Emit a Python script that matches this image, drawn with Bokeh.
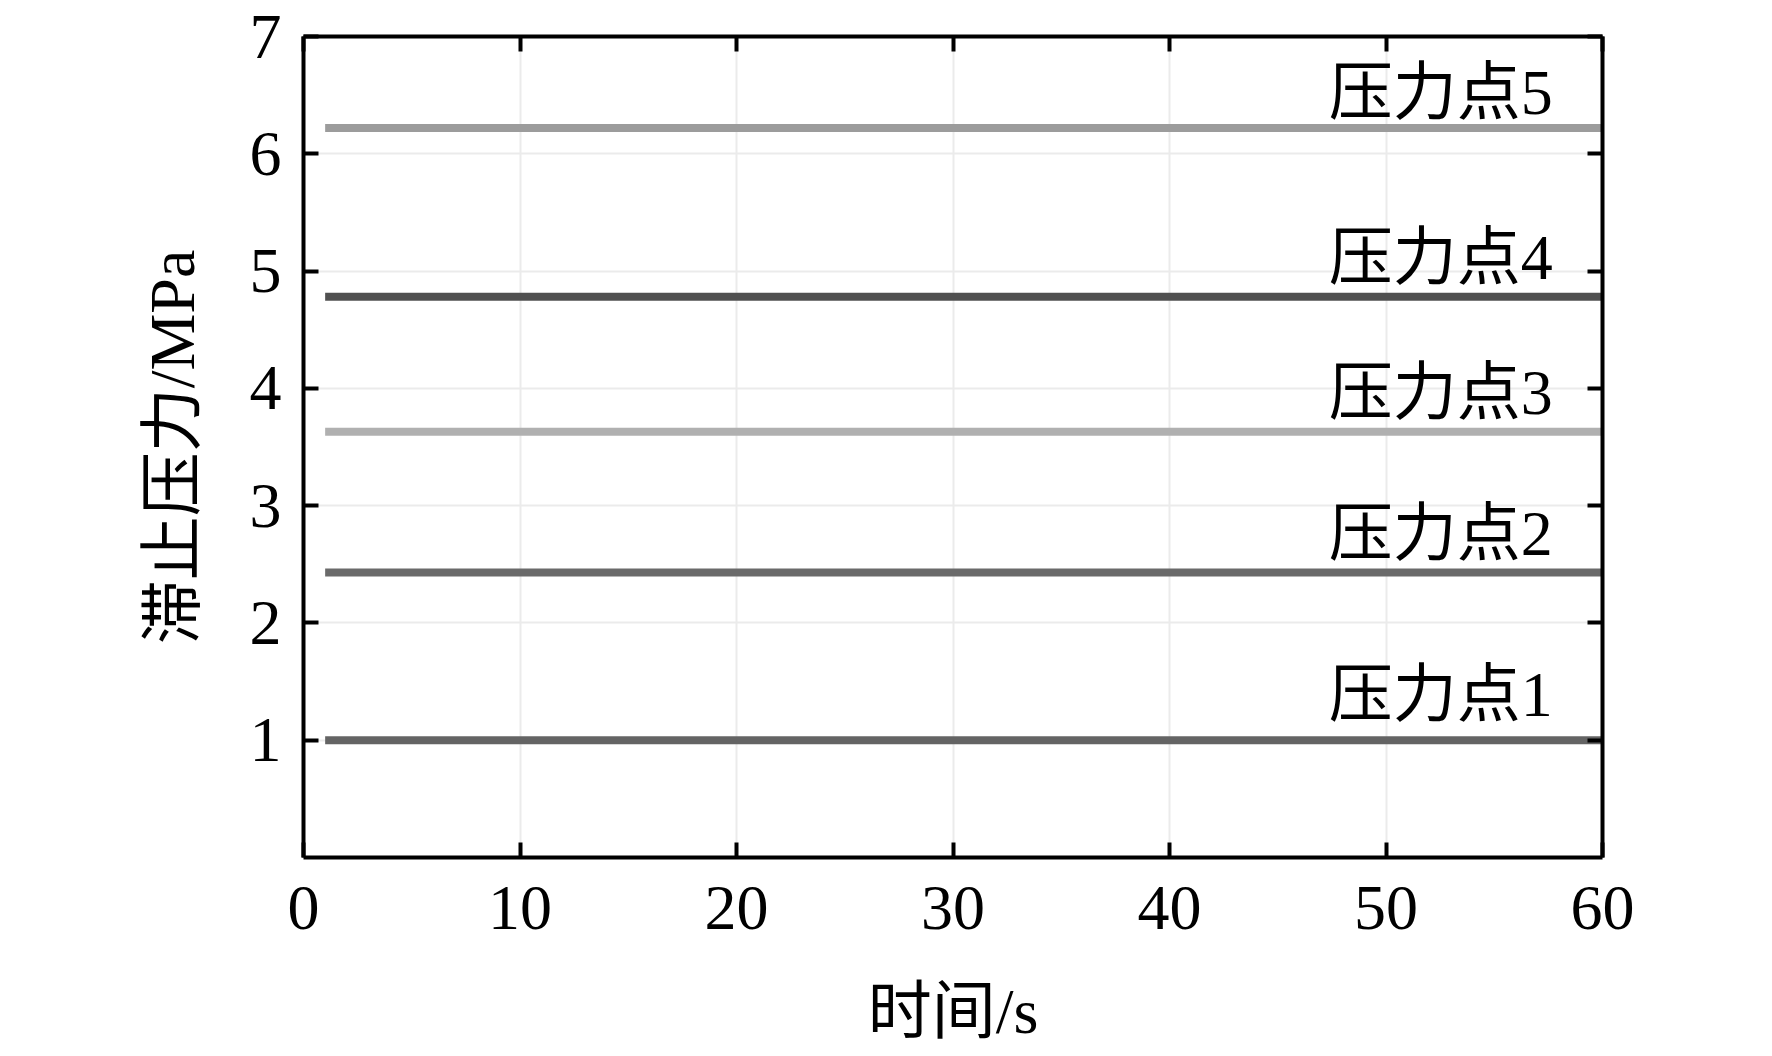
from bokeh.plotting import figure
from bokeh.models import LinearAxis, FixedTicker
from bokeh.core.properties import value
from bokeh.embed import file_html
from bokeh.resources import INLINE

# data
times = [1, 60]
levels = [1.00, 2.43, 3.63, 4.78, 6.22]
names = ["压力点1", "压力点2", "压力点3", "压力点4", "压力点5"]
colors = ["#646464", "#6a6a6a", "#b0b0b0", "#505050", "#9c9c9c"]
label_x = [47.35] * 5
label_y = [1.23, 2.60, 3.80, 4.95, 6.36]
x_ticks = [0, 10, 20, 30, 40, 50, 60]
y_ticks = [1, 2, 3, 4, 5, 6, 7]

FONT = "'Liberation Serif', 'Noto Sans CJK SC', serif"
FS = "64px"

p = figure(frame_width=1299, frame_height=821,
           x_range=(0, 60), y_range=(0, 7),
           min_border_left=303, min_border_right=160,
           min_border_top=36, min_border_bottom=180,
           tools="", toolbar_location=None, output_backend="svg",
           x_axis_label="时间/s", y_axis_label="滞止压力/MPa")
p.outline_line_color = None
p.background_fill_color = "white"

for lv, c in zip(levels, colors):
    p.line(times, [lv, lv], line_color=c, line_width=8)

p.text(label_x, label_y, text=names, text_font=value(FONT),
       text_font_size=FS, text_color="black", y_offset=-19,
       text_align="left", text_baseline="alphabetic")

p.xaxis.ticker = FixedTicker(ticks=x_ticks)
p.yaxis.ticker = FixedTicker(ticks=y_ticks)
p.xgrid.ticker = FixedTicker(ticks=x_ticks)
p.ygrid.ticker = FixedTicker(ticks=y_ticks)
p.grid.grid_line_color = "#ebebeb"
p.grid.grid_line_width = 2

for ax in (p.xaxis[0], p.yaxis[0]):
    ax.axis_line_width = 4
    ax.axis_line_color = "black"
    ax.major_tick_line_width = 4
    ax.major_tick_in = 15
    ax.major_tick_out = 0
    ax.minor_tick_line_color = None
    ax.major_label_text_font = FONT
    ax.major_label_text_font_size = FS
    ax.major_label_text_color = "black"
    ax.axis_label_text_font = FONT
    ax.axis_label_text_font_size = FS
    ax.axis_label_text_font_style = "normal"
    ax.axis_label_text_color = "black"

p.xaxis.major_label_standoff = 29
p.xaxis.axis_label_standoff = 44
p.yaxis.major_label_standoff = 22
p.yaxis.axis_label_standoff = 39

# top and right axes to close the box
top = LinearAxis(ticker=FixedTicker(ticks=x_ticks))
right = LinearAxis(ticker=FixedTicker(ticks=y_ticks))
for ax in (top, right):
    ax.axis_line_width = 4
    ax.axis_line_color = "black"
    ax.major_tick_line_width = 4
    ax.major_tick_in = 15
    ax.major_tick_out = 0
    ax.minor_tick_line_color = None
    ax.major_label_text_color = None
    ax.major_label_text_font_size = "1px"
    ax.major_label_standoff = 0
p.add_layout(top, "above")
p.add_layout(right, "right")

open("out.html", "w").write(file_html(p, INLINE))
